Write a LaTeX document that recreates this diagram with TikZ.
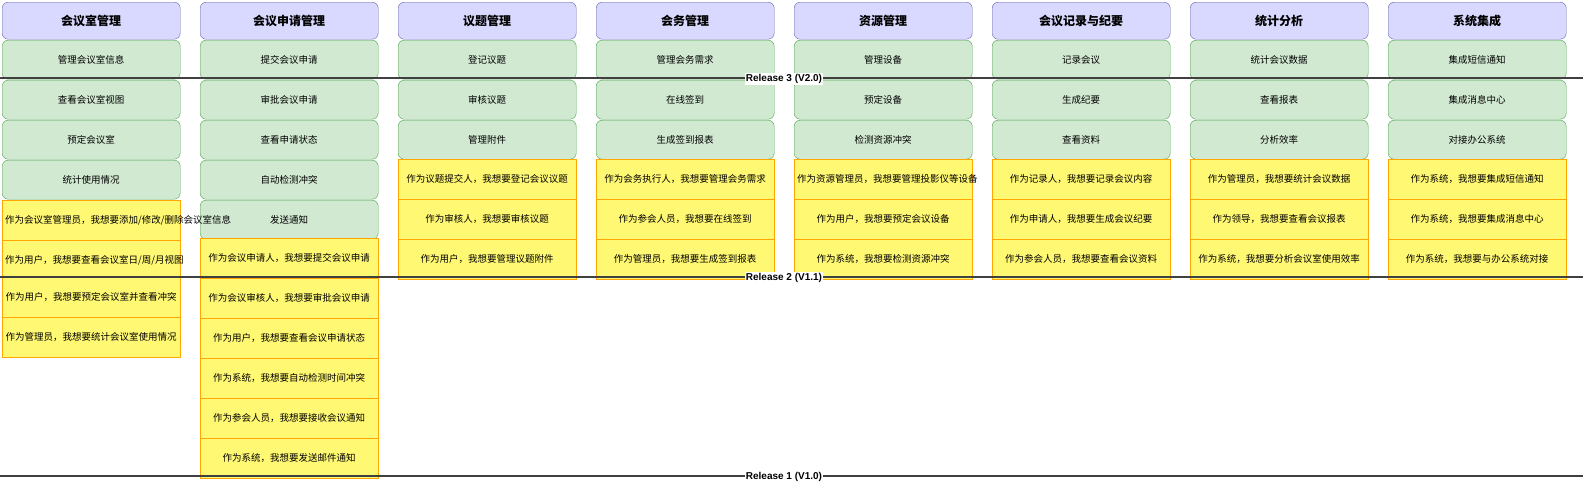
\documentclass[tikz,border=0pt]{standalone}
\usepackage{fontspec}
\setmainfont{Noto Sans CJK SC}
\newfontfamily\lat{Liberation Sans}
\begin{document}
\begin{tikzpicture}[x=1pt,y=-1pt,
 hdr/.style={draw=blue!45!black!60, fill=blue!15, rounded corners=6pt, minimum width=178pt, minimum height=37pt, font=\fontsize{12}{14}\selectfont\bfseries, anchor=north west, inner sep=2pt},
 grn/.style={draw=green!50!black!70, fill=green!50!black!18, rounded corners=6pt, minimum width=178pt, minimum height=39pt, font=\fontsize{9.5}{12}\selectfont, anchor=north west, inner sep=2pt},
 yel/.style={draw=orange!70!yellow, fill=yellow!55, minimum width=178pt, minimum height=40pt, text width=172pt, align=center, font=\fontsize{9.5}{12}\selectfont, anchor=north west, inner sep=3pt},
 rel/.style={draw=black!75, line width=1.2pt},
 rlab/.style={fill=white, font=\lat\fontsize{10}{12}\selectfont\bfseries, inner sep=1pt}]
\useasboundingbox (0,0) rectangle (1583,488);
\fill[white] (0,0) rectangle (1583,488);
\def\cx#1{\numexpr 2+198*#1\relax}
% headers
\foreach \i/\t in {0/会议室管理,1/会议申请管理,2/议题管理,3/会务管理,4/资源管理,5/会议记录与纪要,6/统计分析,7/系统集成}
 \node[hdr] (h\i) at ({2+198*\i},2) {\t};
% green
\foreach \i/\a/\b/\c/\d in {0/管理会议室信息/查看会议室视图/预定会议室/统计使用情况,
 1/提交会议申请/审批会议申请/查看申请状态/自动检测冲突,
 2/登记议题/审核议题/管理附件/,
 3/管理会务需求/在线签到/生成签到报表/,
 4/管理设备/预定设备/检测资源冲突/,
 5/记录会议/生成纪要/查看资料/,
 6/统计会议数据/查看报表/分析效率/,
 7/集成短信通知/集成消息中心/对接办公系统/}{
 \node[grn] (ga\i) at ({2+198*\i},40) {\a};
 \node[grn] (gb\i) at ({2+198*\i},80) {\b};
 \node[grn] (gc\i) at ({2+198*\i},120) {\c};
}
\node[grn] (gd0) at (2,160) {统计使用情况};
\node[grn] (gd1) at (200,160) {自动检测冲突};
\node[grn] (ge1) at (200,200) {发送通知};
% yellow col 0
\node[yel] (y01) at (2,200) {作为会议室管理员，我想要添加/修改/删除会议室信息};
\node[yel] (y02) at (2,240) {作为用户，我想要查看会议室日/周/月视图};
\node[yel] (y03) at (2,277) {作为用户，我想要预定会议室并查看冲突};
\node[yel] (y04) at (2,317) {作为管理员，我想要统计会议室使用情况};
% col 1
\node[yel] (y11) at (200,238) {作为会议申请人，我想要提交会议申请};
\node[yel] (y12) at (200,278) {作为会议审核人，我想要审批会议申请};
\node[yel] (y13) at (200,318) {作为用户，我想要查看会议申请状态};
\node[yel] (y14) at (200,358) {作为系统，我想要自动检测时间冲突};
\node[yel] (y15) at (200,398) {作为参会人员，我想要接收会议通知};
\node[yel] (y16) at (200,438) {作为系统，我想要发送邮件通知};
% others
\foreach \i/\a/\b/\c in {2/作为议题提交人，我想要登记会议议题/作为审核人，我想要审核议题/作为用户，我想要管理议题附件,
 3/作为会务执行人，我想要管理会务需求/作为参会人员，我想要在线签到/作为管理员，我想要生成签到报表,
 4/作为资源管理员，我想要管理投影仪等设备/作为用户，我想要预定会议设备/作为系统，我想要检测资源冲突,
 5/作为记录人，我想要记录会议内容/作为申请人，我想要生成会议纪要/作为参会人员，我想要查看会议资料,
 6/作为管理员，我想要统计会议数据/作为领导，我想要查看会议报表/作为系统，我想要分析会议室使用效率,
 7/作为系统，我想要集成短信通知/作为系统，我想要集成消息中心/作为系统，我想要与办公系统对接}{
 \node[yel] (ya\i) at ({2+198*\i},159) {\a};
 \node[yel] (yb\i) at ({2+198*\i},199) {\b};
 \node[yel] (yc\i) at ({2+198*\i},239) {\c};
}
% releases
\coordinate (r3a) at (0,78); \coordinate (r3b) at (1583,78);
\coordinate (r2a) at (0,277); \coordinate (r2b) at (1583,277);
\coordinate (r1a) at (0,476); \coordinate (r1b) at (1583,476);
\draw[rel] (r3a) -- (r3b); \draw[rel] (r2a) -- (r2b); \draw[rel] (r1a) -- (r1b);
\node[rlab] (l3) at (784,79) {Release 3 (V2.0)};
\node[rlab] (l2) at (784,278) {Release 2 (V1.1)};
\node[rlab] (l1) at (784,477) {Release 1 (V1.0)};
\end{tikzpicture}
\end{document}
